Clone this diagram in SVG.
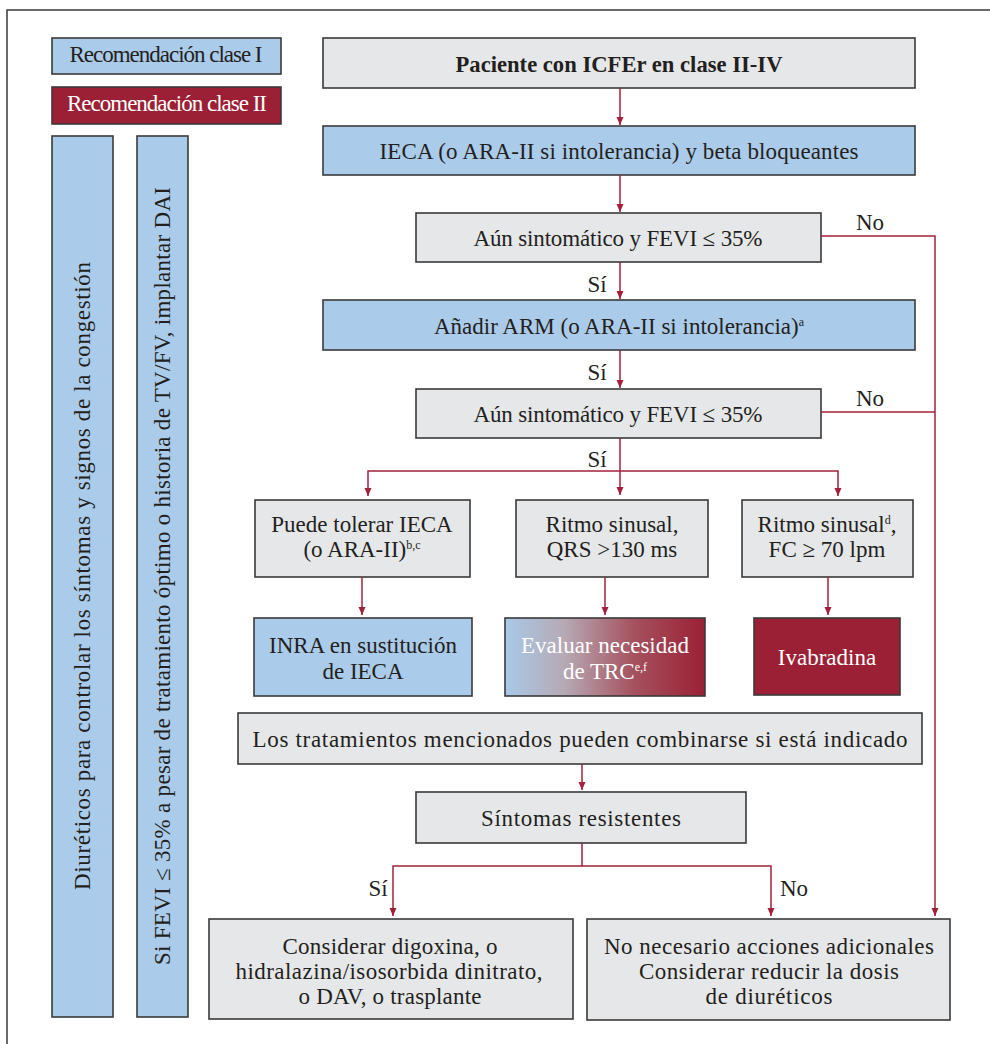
<svg xmlns="http://www.w3.org/2000/svg" width="990" height="1044" viewBox="0 0 990 1044">
<style>
.box{stroke:#3a3a3a;stroke-width:1.6}
.g{fill:#e6e7e9}
.b{fill:#abcbea}
.r{fill:#9b2035}
.t{font-family:"Liberation Serif",serif;font-size:23px;fill:#231f20;text-anchor:middle}
.w{fill:#ffffff}
.con path{fill:none;stroke:#a3203b;stroke-width:1.5}
.sup{font-size:12px}
</style>
<defs>
<marker id="ah" markerUnits="userSpaceOnUse" markerWidth="9" markerHeight="9" refX="8" refY="3.5" orient="auto">
<path d="M0,0 L8,3.5 L0,7 z" fill="#a3203b"/>
</marker>
<linearGradient id="grad" x1="0" y1="0" x2="1" y2="0">
<stop offset="0" stop-color="#a9c9e8"/>
<stop offset="0.3" stop-color="#b6a9b4"/>
<stop offset="0.65" stop-color="#a5505d"/>
<stop offset="1" stop-color="#9b2035"/>
</linearGradient>
</defs>
<rect width="990" height="1044" fill="#ffffff"/>
<path d="M7,1044 V10 H990" fill="none" stroke="#3a3a3a" stroke-width="1.5"/>

<g id="legend1"><rect class="box b" x="52" y="38" width="229" height="36"/><text class="t" x="166" y="62" font-size="19" textLength="193">Recomendación clase I</text></g>
<g id="legend2"><rect class="box r" x="52" y="87" width="229" height="37"/><text class="t w" x="167" y="111" font-size="19" textLength="200">Recomendación clase II</text></g>

<g id="side1"><rect class="box b" x="52" y="136" width="61" height="881"/><text class="t" transform="translate(90,576) rotate(-90)" textLength="628">Diuréticos para controlar los síntomas y signos de la congestión</text></g>
<g id="side2"><rect class="box b" x="137" y="136" width="51" height="881"/><text class="t" transform="translate(170,576) rotate(-90)" textLength="778">Si FEVI ≤ 35% a pesar de tratamiento óptimo o historia de TV/FV, implantar DAI</text></g>

<g id="n1"><rect class="box g" x="323" y="38" width="592" height="50"/><text class="t" x="619" y="72" font-weight="bold" textLength="327" lengthAdjust="spacingAndGlyphs">Paciente con ICFEr en clase II-IV</text></g>
<g id="n2"><rect class="box b" x="323" y="126" width="592" height="49"/><text class="t" x="619" y="159" textLength="479">IECA (o ARA-II si intolerancia) y beta bloqueantes</text></g>
<g id="n3"><rect class="box g" x="416" y="213" width="405" height="49"/><text class="t" x="618" y="246" textLength="289">Aún sintomático y FEVI ≤ 35%</text></g>
<g id="n4"><rect class="box b" x="323" y="300" width="592" height="50"/><text class="t" x="619" y="334">Añadir ARM (o ARA-II si intolerancia)<tspan class="sup" dy="-8">a</tspan></text></g>
<g id="n5"><rect class="box g" x="416" y="389" width="405" height="49"/><text class="t" x="618" y="422" textLength="289">Aún sintomático y FEVI ≤ 35%</text></g>

<g id="n6"><rect class="box g" x="255" y="500" width="215" height="77"/><text class="t" x="362" y="532">Puede tolerar IECA</text><text class="t" x="362" y="557">(o ARA-II)<tspan class="sup" dy="-8">b,c</tspan></text></g>
<g id="n7"><rect class="box g" x="516" y="500" width="192" height="77"/><text class="t" x="612" y="532">Ritmo sinusal,</text><text class="t" x="612" y="557">QRS &gt;130 ms</text></g>
<g id="n8"><rect class="box g" x="742" y="500" width="171" height="77"/><text class="t" x="827" y="532">Ritmo sinusal<tspan class="sup" dy="-8">d</tspan><tspan dy="8">,</tspan></text><text class="t" x="827" y="557">FC ≥ 70 lpm</text></g>

<g id="n9"><rect class="box b" x="254" y="618" width="218" height="78"/><text class="t" x="363" y="653">INRA en sustitución</text><text class="t" x="363" y="679">de IECA</text></g>
<g id="n10"><rect class="box" fill="url(#grad)" x="505" y="618" width="200" height="78"/><text class="t w" x="605" y="653">Evaluar necesidad</text><text class="t w" x="605" y="679">de TRC<tspan class="sup" dy="-8">e,f</tspan></text></g>
<g id="n11"><rect class="box r" x="754" y="618" width="146" height="77"/><text class="t w" x="827" y="665">Ivabradina</text></g>

<g id="n12"><rect class="box g" x="238" y="713" width="684" height="51"/><text class="t" x="580" y="747" textLength="655">Los tratamientos mencionados pueden combinarse si está indicado</text></g>
<g id="n13"><rect class="box g" x="416" y="792" width="330" height="51"/><text class="t" x="581" y="826" textLength="200">Síntomas resistentes</text></g>

<g id="n14"><rect class="box g" x="209" y="919" width="364" height="100"/>
<text class="t" x="390" y="954" textLength="215">Considerar digoxina, o</text>
<text class="t" x="389" y="979" textLength="307">hidralazina/isosorbida dinitrato,</text>
<text class="t" x="390" y="1004" textLength="183">o DAV, o trasplante</text></g>
<g id="n15"><rect class="box g" x="587" y="919" width="363" height="101"/>
<text class="t" x="769" y="954" textLength="330">No necesario acciones adicionales</text>
<text class="t" x="769" y="979" textLength="260">Considerar reducir la dosis</text>
<text class="t" x="769" y="1004" textLength="127">de diuréticos</text></g>

<g id="connectors" class="con">
<path d="M620,88 V125" marker-end="url(#ah)"/>
<path d="M620,175 V212" marker-end="url(#ah)"/>
<path d="M620,262 V299" marker-end="url(#ah)"/>
<path d="M620,350 V388" marker-end="url(#ah)"/>
<path d="M620,438 V495" marker-end="url(#ah)"/>
<path d="M620,471 H368 V496" marker-end="url(#ah)"/>
<path d="M620,471 H838 V496" marker-end="url(#ah)"/>
<path d="M362,577 V615" marker-end="url(#ah)"/>
<path d="M605,577 V615" marker-end="url(#ah)"/>
<path d="M828,577 V615" marker-end="url(#ah)"/>
<path d="M582,764 V790" marker-end="url(#ah)"/>
<path d="M582,843 V866 H393 V916" marker-end="url(#ah)"/>
<path d="M582,866 H771 V916" marker-end="url(#ah)"/>
<path d="M821,236 H935 V916" marker-end="url(#ah)"/>
<path d="M821,412 H935"/>
</g>
<g id="labels">
<text class="t" x="870" y="230">No</text>
<text class="t" x="870" y="406">No</text>
<text class="t" x="597" y="292">Sí</text>
<text class="t" x="597" y="380">Sí</text>
<text class="t" x="597" y="467">Sí</text>
<text class="t" x="378" y="896">Sí</text>
<text class="t" x="794" y="896">No</text>
</g>
</svg>
